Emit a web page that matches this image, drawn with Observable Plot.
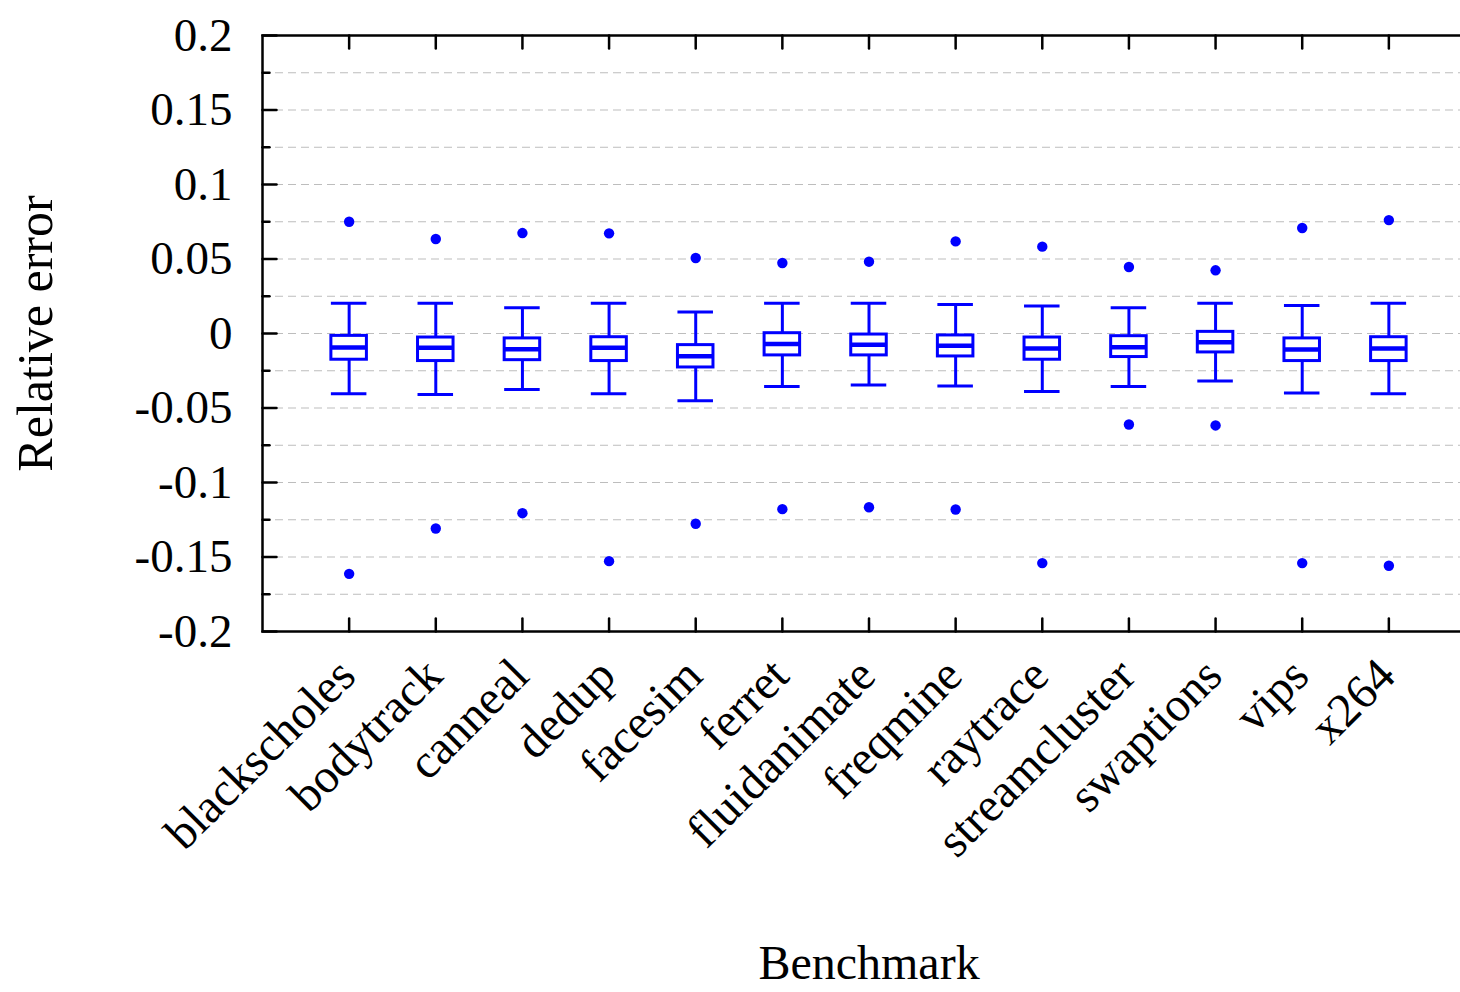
<!DOCTYPE html>
<html><head><meta charset="utf-8">
<script src="https://cdn.jsdelivr.net/npm/d3@7"></script>
<script src="https://cdn.jsdelivr.net/npm/@observablehq/plot@0.6"></script>
<style>html,body{margin:0;padding:0;background:#fff;overflow:hidden}</style>
</head><body><div id="chart"></div>
<script>
const benchmarks = ["blackscholes","bodytrack","canneal","dedup","facesim","ferret","fluidanimate","freqmine","raytrace","streamcluster","swaptions","vips","x264"];
const whiskerHigh = [0.0203, 0.0203, 0.0172, 0.0203, 0.0145, 0.0203, 0.0203, 0.0194, 0.0185, 0.0172, 0.0203, 0.0188, 0.0203];
const q3 = [-0.0016, -0.0027, -0.0033, -0.0025, -0.0078, 0.0002, -0.0007, -0.0013, -0.0027, -0.0018, 0.0011, -0.0033, -0.0025];
const median = [-0.0094, -0.0096, -0.0105, -0.0096, -0.0152, -0.0071, -0.0076, -0.0083, -0.0100, -0.0092, -0.0058, -0.0107, -0.0100];
const q1 = [-0.0176, -0.0185, -0.0179, -0.0185, -0.0228, -0.0147, -0.0147, -0.0154, -0.0176, -0.0158, -0.0127, -0.0185, -0.0185];
const whiskerLow = [-0.0404, -0.0410, -0.0375, -0.0404, -0.0451, -0.0355, -0.0346, -0.0353, -0.0390, -0.0355, -0.0319, -0.0400, -0.0404];
const outlierHigh = [0.0750, 0.0634, 0.0674, 0.0672, 0.0507, 0.0473, 0.0482, 0.0618, 0.0583, 0.0446, 0.0424, 0.0708, 0.0761];
const outlierLow = [-0.1613, -0.1309, -0.1206, -0.1528, -0.1277, -0.1179, -0.1166, -0.1181, -0.1541, -0.0611, -0.0617, -0.1541, -0.1559];

const yTicks = [-0.2, -0.15, -0.1, -0.05, 0, 0.05, 0.1, 0.15, 0.2];
const yTickLabels = ["-0.2", "-0.15", "-0.1", "-0.05", "0", "0.05", "0.1", "0.15", "0.2"];
const yMinorTicks = [-0.175, -0.125, -0.075, -0.025, 0.025, 0.075, 0.125, 0.175];
const gridLines = [-0.175, -0.15, -0.125, -0.1, -0.075, -0.05, -0.025, 0, 0.025, 0.05, 0.075, 0.1, 0.125, 0.15, 0.175];

const rows = benchmarks.map((b, i) => ({b, lo: whiskerLow[i], q1: q1[i], med: median[i], q3: q3[i], hi: whiskerHigh[i]}));
const outliers = benchmarks.flatMap((b, i) => [{b, v: outlierHigh[i]}, {b, v: outlierLow[i]}]);
const yTickRows = yTicks.map((v, i) => ({v, label: yTickLabels[i]}));

const tickLine = {draw(context, l) { context.moveTo(0, 0); context.lineTo(0, -l); }};
const blue = "#0000ff";
const font = "'Liberation Serif', 'Times New Roman', serif";

const chart = Plot.plot({
  width: 1460,
  height: 992,
  marginLeft: 262,
  marginRight: -15,
  marginTop: 35,
  marginBottom: 361,
  style: {fontFamily: font, fontSize: "46px", background: "#fff"},
  x: {type: "band", domain: benchmarks, paddingInner: 0.59, paddingOuter: 0.795, round: false, axis: null},
  y: {domain: [-0.2, 0.2], axis: null},
  marks: [
    Plot.ruleY(gridLines, {y: d => d, stroke: "#bdbdbd", strokeWidth: 1, strokeDasharray: "8,5"}),
    Plot.ruleX(rows, {x: "b", y1: "q3", y2: "hi", stroke: blue, strokeWidth: 3}),
    Plot.ruleX(rows, {x: "b", y1: "lo", y2: "q1", stroke: blue, strokeWidth: 3}),
    Plot.barY(rows, {x: "b", y1: "q1", y2: "q3", fill: "#fff", stroke: blue, strokeWidth: 3}),
    Plot.tickY(rows, {x: "b", y: "med", stroke: blue, strokeWidth: 4.5}),
    Plot.tickY(rows, {x: "b", y: "hi", stroke: blue, strokeWidth: 3}),
    Plot.tickY(rows, {x: "b", y: "lo", stroke: blue, strokeWidth: 3}),
    Plot.dot(outliers, {x: "b", y: "v", r: 5.2, fill: blue, stroke: null}),
    Plot.frame({stroke: "#000", strokeWidth: 2.5}),
    Plot.vector(yTicks, {y: d => d, frameAnchor: "left", rotate: 90, length: 14, anchor: "start", shape: tickLine, stroke: "#000", strokeWidth: 2.5}),
    Plot.vector(yMinorTicks, {y: d => d, frameAnchor: "left", rotate: 90, length: 7, anchor: "start", shape: tickLine, stroke: "#000", strokeWidth: 2.5}),
    Plot.vector(benchmarks, {x: d => d, frameAnchor: "bottom", rotate: 0, length: 13, anchor: "start", shape: tickLine, stroke: "#000", strokeWidth: 2.5}),
    Plot.vector(benchmarks, {x: d => d, frameAnchor: "top", rotate: 180, length: 13, anchor: "start", shape: tickLine, stroke: "#000", strokeWidth: 2.5}),
    Plot.text(yTickRows, {y: "v", text: "label", frameAnchor: "left", textAnchor: "end", dx: -30, fontSize: 47, fill: "#000"}),
    Plot.text(benchmarks, {x: d => d, text: d => d, frameAnchor: "bottom", rotate: -45, textAnchor: "end", lineAnchor: "middle", dx: -2, dy: 36, fontSize: 48, fill: "#000"}),
    Plot.text(["Relative error"], {text: d => d, frameAnchor: "left", textAnchor: "middle", lineAnchor: "middle", rotate: -90, dx: -227, fontSize: 50, fill: "#000"}),
    Plot.text(["Benchmark"], {text: d => d, frameAnchor: "bottom", textAnchor: "middle", lineAnchor: "middle", dy: 332, fontSize: 48, fill: "#000"})
  ]
});
document.getElementById("chart").appendChild(chart);
</script>
</body></html>
